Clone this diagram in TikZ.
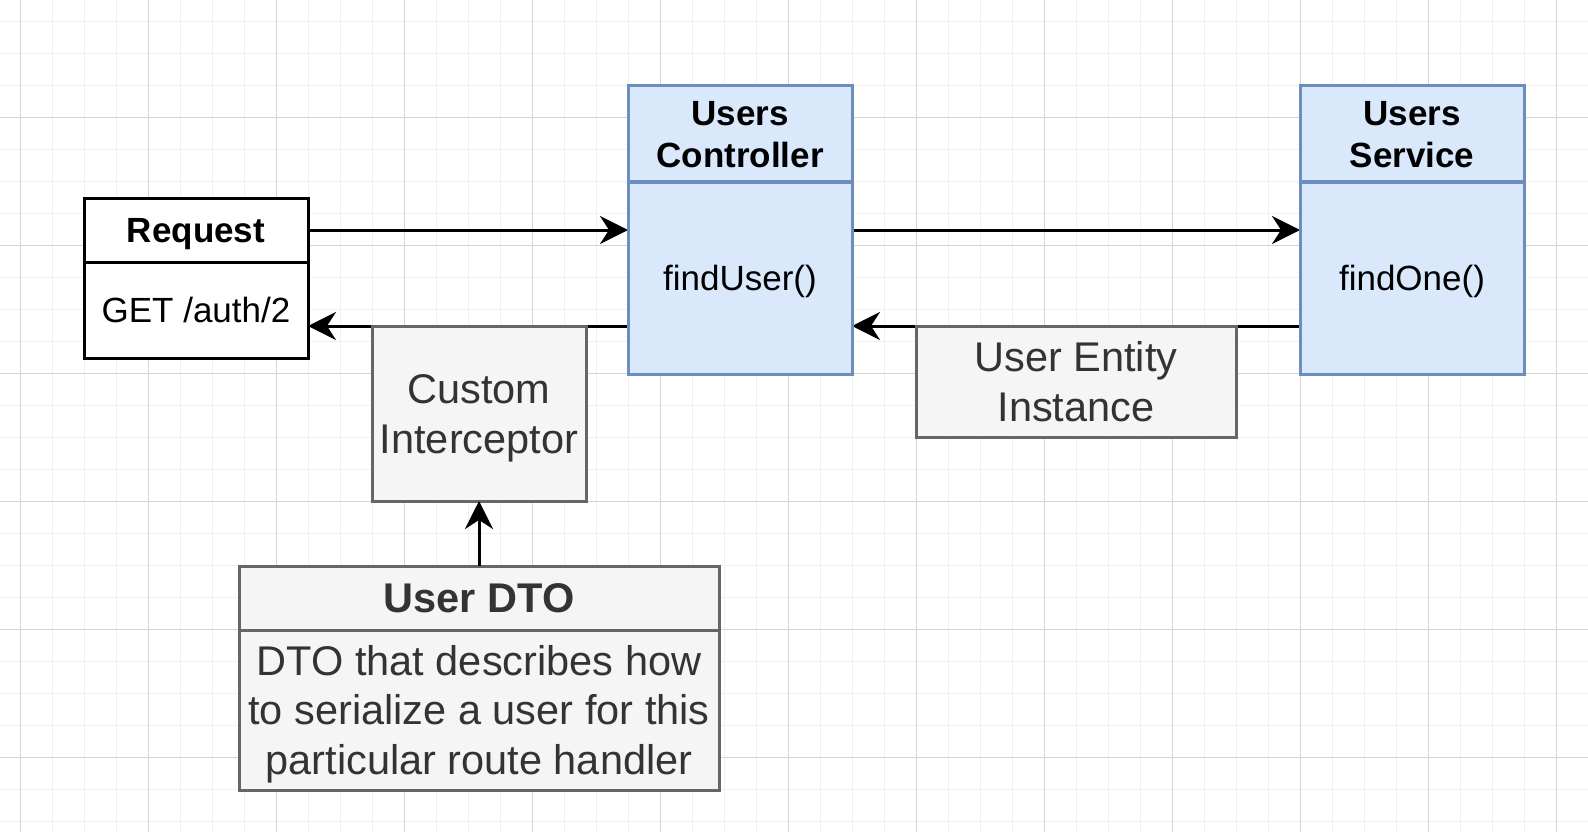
\documentclass[tikz,border=0pt]{standalone}
\usepackage{fontspec}
\setmainfont{Liberation Sans}
\usetikzlibrary{arrows.meta}

\definecolor{gridminor}{HTML}{F0F0F0}
\definecolor{gridmajor}{HTML}{D4D4D4}
\definecolor{bluefill}{HTML}{DAE8FC}
\definecolor{bluedraw}{HTML}{6C8EBF}
\definecolor{greyfill}{HTML}{F5F5F5}
\definecolor{greydraw}{HTML}{666666}
\definecolor{greytext}{HTML}{333333}

\pgfdeclarelayer{gridlayer}
\pgfdeclarelayer{edgelayer}
\pgfsetlayers{gridlayer,edgelayer,main}

\newcommand{\smallfont}{\fontsize{35}{42}\selectfont}
\newcommand{\largefont}{\fontsize{41.5}{49.8}\selectfont}
% one text line whose box is exactly the capital height, so that
% lines are centred on their capitals
\newcommand{\capline}[1]{\raisebox{0pt}[0.716em][0pt]{#1}}

\begin{document}
\begin{tikzpicture}[x=1pt, y=-1pt,
  box/.style={draw, line width=3pt, inner sep=0pt, outer sep=0pt,
              align=center, anchor=north west},
  plainbox/.style={box, draw=black, fill=white, text=black, font=\smallfont},
  bluebox/.style={box, draw=bluedraw, fill=bluefill, text=black, font=\smallfont},
  greybox/.style={box, draw=greydraw, fill=greyfill, text=greytext, font=\largefont},
  flow/.style={line width=3pt, draw=black,
               -{Stealth[length=28pt, width=28pt, inset=9pt]}},
  minorline/.style={draw=gridminor, line width=1pt},
  majorline/.style={draw=gridmajor, line width=1pt}
]
\useasboundingbox (0,0) rectangle (1588,832);

% background grid
\begin{pgfonlayer}{gridlayer}
  \fill[white] (0,0) rectangle (1588,832);
  \foreach \k in {0,...,48} \draw[minorline] ({20.7+32*\k},0) -- ++(0,832);
  \foreach \k in {0,...,25} \draw[minorline] (0,{21.3+32*\k}) -- ++(1588,0);
  \foreach \k in {0,...,12} \draw[majorline] ({20.7+128*\k},0) -- ++(0,832);
  \foreach \k in {0,...,5}  \draw[majorline] (0,{117.3+128*\k}) -- ++(1588,0);
\end{pgfonlayer}

% request
\node[plainbox, minimum width=224pt, minimum height=64pt] (reqh) at (84,198)
  {\bfseries\capline{Request}};
\node[plainbox, minimum width=224pt, minimum height=96pt] (reqb) at (84,262)
  {\capline{GET /auth/2}};

% users controller
\node[bluebox, minimum width=224pt, minimum height=96pt] (ctrlh) at (628,86)
  {\bfseries\capline{Users}\\\bfseries\capline{Controller}};
\node[bluebox, minimum width=224pt, minimum height=192pt] (ctrlb) at (628,182)
  {\capline{findUser()}};

% users service
\node[bluebox, minimum width=224pt, minimum height=96pt] (svch) at (1300,86)
  {\bfseries\capline{Users}\\\bfseries\capline{Service}};
\node[bluebox, minimum width=224pt, minimum height=192pt] (svcb) at (1300,182)
  {\capline{findOne()}};

% interceptor and entity
\node[greybox, minimum width=214pt, minimum height=175pt] (icp) at (372,326)
  {\capline{Custom}\\\capline{Interceptor}};
\node[greybox, minimum width=320pt, minimum height=111pt] (ent) at (916,326)
  {\capline{User Entity}\\\capline{Instance}};

% user dto
\node[greybox, minimum width=480pt, minimum height=64pt] (dtoh) at (239,566)
  {\bfseries\capline{User DTO}};
\node[greybox, minimum width=480pt, minimum height=160pt] (dtob) at (239,630)
  {\capline{DTO that describes how}\\\capline{to serialize a user for this}\\\capline{particular route handler}};

% connectors
\begin{pgfonlayer}{edgelayer}
  \draw[flow] (reqh.east) -- (reqh.east -| ctrlb.west);
  \draw[flow] (ctrlb.east |- reqh.east) -- (svcb.west |- reqh.east);
  \draw[flow] (svcb.west |- ent.north) -- (ctrlb.east |- ent.north);
  \draw[flow] (ctrlb.west |- icp.north) -- (reqb.east |- icp.north);
\end{pgfonlayer}
\draw[flow] (dtoh.north) -- (icp.south);

\end{tikzpicture}
\end{document}
